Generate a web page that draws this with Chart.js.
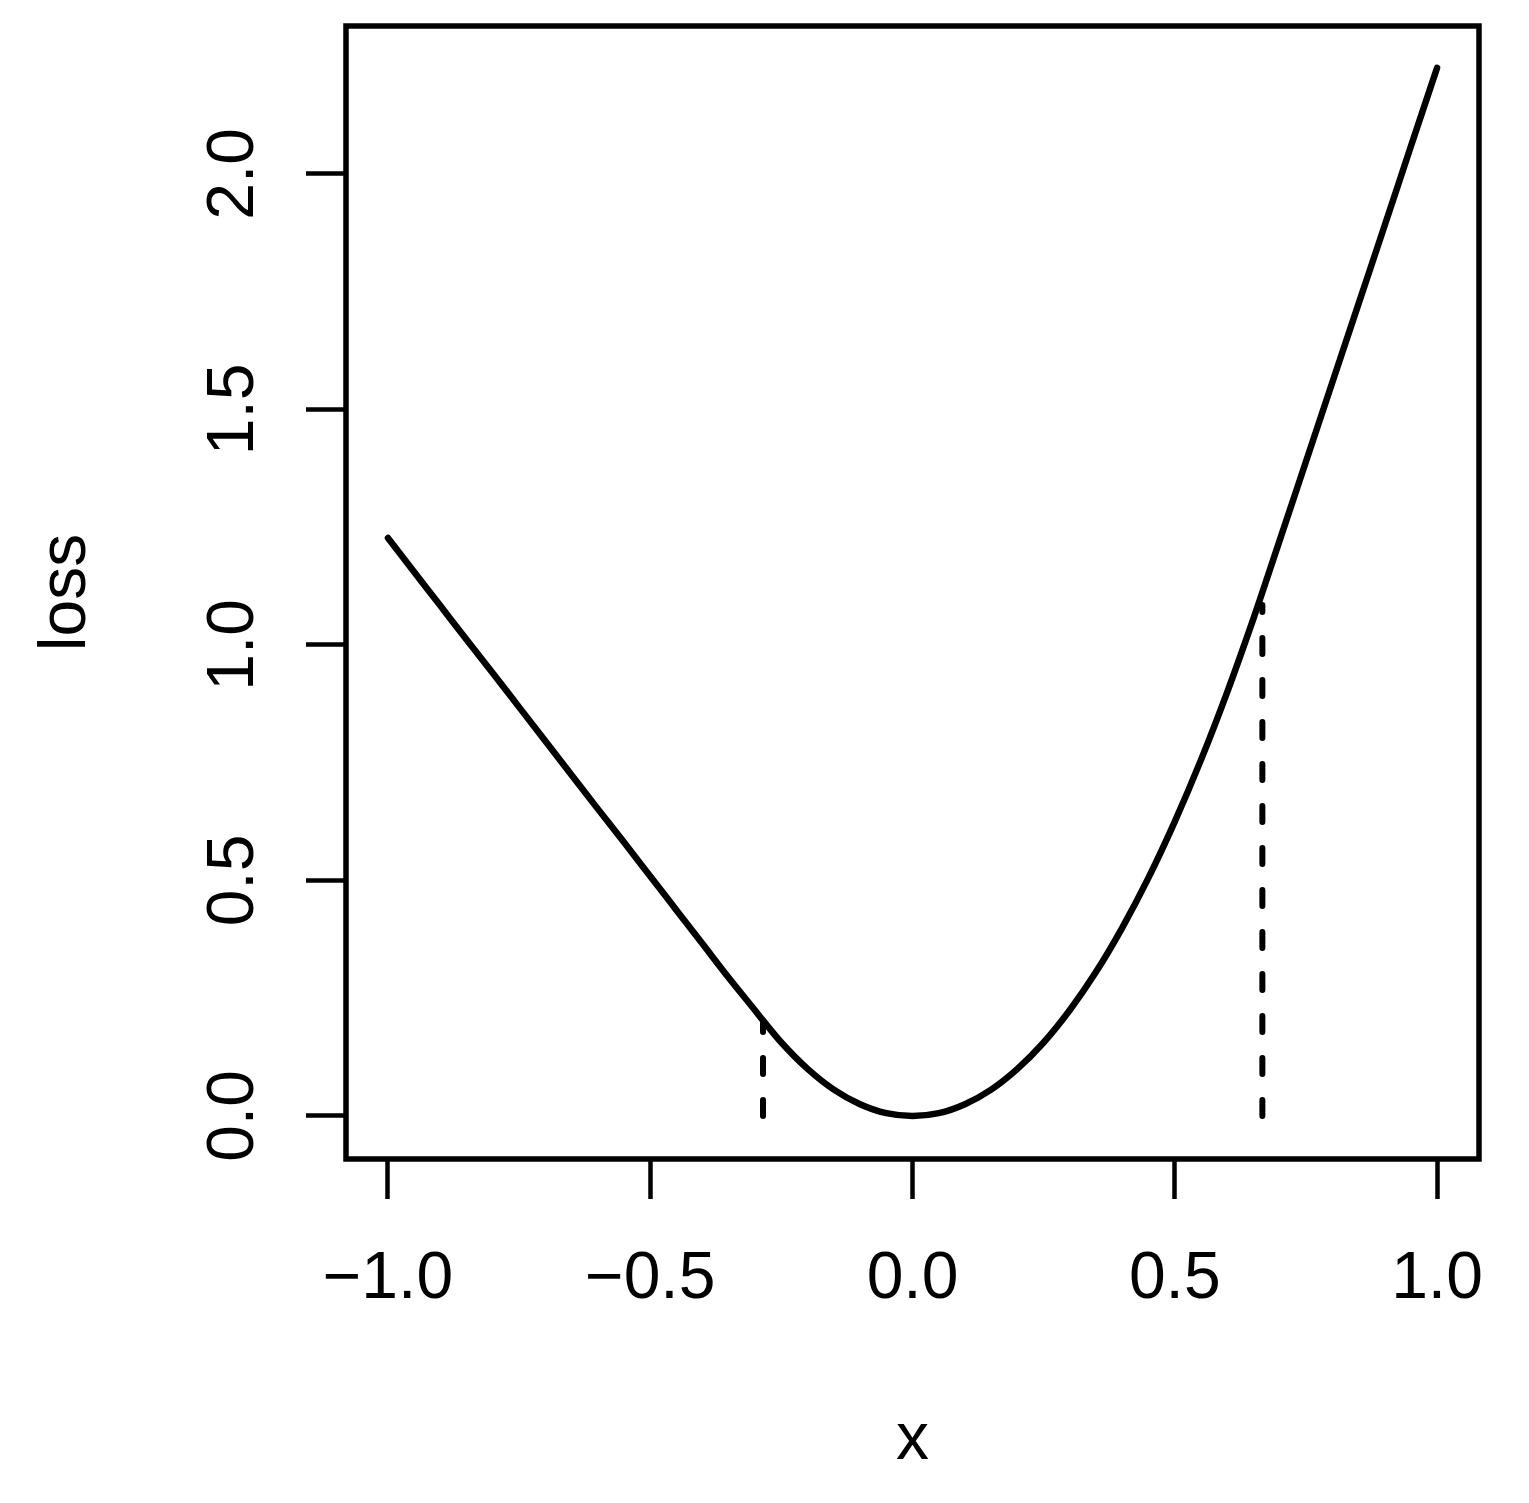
<!DOCTYPE html>
<html>
<head>
<meta charset="utf-8">
<script src="https://cdn.jsdelivr.net/npm/chart.js@4/dist/chart.umd.min.js"></script>
<style>
  html, body { margin: 0; padding: 0; background: #fff; }
  canvas { display: block; }
</style>
</head>
<body>
<canvas id="grafico" width="1529" height="1503"></canvas>
<script>
// valores
const xVals = [-1.0, -0.95, -0.9, -0.85, -0.8, -0.75, -0.7, -0.65, -0.6, -0.55, -0.5, -0.45, -0.4, -0.35, -0.3, -0.285,
  -0.25, -0.2, -0.15, -0.1, -0.05, 0.0, 0.05, 0.1, 0.15, 0.2, 0.25, 0.3, 0.35, 0.4, 0.45, 0.5, 0.55, 0.6, 0.65, 0.667,
  0.7, 0.75, 0.8, 0.85, 0.9, 0.95, 1.0];
const lossVals = [1.227, 1.155, 1.083, 1.011, 0.940, 0.868, 0.796, 0.724, 0.652, 0.581, 0.509, 0.437, 0.365, 0.293, 0.224, 0.203,
  0.156, 0.100, 0.056, 0.025, 0.006, 0.000, 0.006, 0.025, 0.056, 0.100, 0.156, 0.225, 0.306, 0.400, 0.506, 0.625, 0.756, 0.900, 1.056, 1.112,
  1.222, 1.389, 1.556, 1.723, 1.890, 2.058, 2.225];

// linhas tracejadas verticais
const cutX = [-0.285, 0.667];
const cutTop = [0.2, 1.085];

// marcas dos eixos
const xTicks = [-1.0, -0.5, 0.0, 0.5, 1.0];
const xTickLabels = ['\u22121.0', '\u22120.5', '0.0', '0.5', '1.0'];
const yTicks = [0.0, 0.5, 1.0, 1.5, 2.0];
const yTickLabels = ['0.0', '0.5', '1.0', '1.5', '2.0'];

const fonte = '"Liberation Sans", Arial, Helvetica, sans-serif';
const tam = 66;

const datasets = [{
  data: xVals.map((x, i) => ({ x: x, y: lossVals[i] })),
  showLine: true,
  borderColor: '#000',
  borderWidth: 6.5,
  borderCapStyle: 'round',
  borderJoinStyle: 'round',
  cubicInterpolationMode: 'monotone',
  pointRadius: 0
}];

cutX.forEach((x, i) => {
  datasets.push({
    data: [{ x: x, y: 0 }, { x: x, y: cutTop[i] }],
    showLine: true,
    borderColor: '#000',
    borderWidth: 6,
    borderDash: [16, 26],
    borderCapStyle: 'round',
    pointRadius: 0
  });
});

// moldura em volta da área do gráfico
const moldura = {
  id: 'moldura',
  afterDraw(chart) {
    const a = chart.chartArea;
    const c = chart.ctx;
    c.save();
    c.strokeStyle = '#000';
    c.lineWidth = 5.5;
    c.strokeRect(a.left, a.top, a.right - a.left, a.bottom - a.top);
    c.restore();
  }
};

const ctx = document.getElementById('grafico').getContext('2d');
const grafico = new Chart(ctx, {
  type: 'scatter',
  data: { datasets: datasets },
  plugins: [moldura],
  options: {
    responsive: false,
    animation: false,
    devicePixelRatio: 1,
    layout: { padding: { left: 0, right: 50, top: 26, bottom: 0 } },
    plugins: { legend: { display: false }, tooltip: { enabled: false } },
    scales: {
      x: {
        type: 'linear',
        position: 'bottom',
        min: -1.08,
        max: 1.08,
        afterBuildTicks: s => { s.ticks = xTicks.map(v => ({ value: v })); },
        afterFit: s => { s.height = 344; s.paddingLeft = 0; s.paddingRight = 0; },
        border: { display: false },
        grid: { display: true, drawOnChartArea: false, drawTicks: true, tickLength: 40, tickWidth: 4.5, tickColor: '#000' },
        ticks: {
          color: '#000',
          font: { family: fonte, size: tam },
          padding: 41,
          maxRotation: 0,
          autoSkip: false,
          callback: (v, i) => xTickLabels[i]
        },
        title: { display: true, text: 'x', color: '#000', font: { family: fonte, size: tam }, padding: { top: 0, bottom: 23 } }
      },
      y: {
        type: 'linear',
        position: 'left',
        min: -0.0913,
        max: 2.314,
        afterBuildTicks: s => { s.ticks = yTicks.map(v => ({ value: v })); },
        afterFit: s => { s.width = 346; s.paddingTop = 0; s.paddingBottom = 0; },
        border: { display: false },
        grid: { display: true, drawOnChartArea: false, drawTicks: true, tickLength: 40, tickWidth: 4.5, tickColor: '#000' },
        ticks: {
          color: '#000',
          font: { family: fonte, size: tam },
          padding: 25,
          minRotation: 90,
          maxRotation: 90,
          crossAlign: 'center',
          autoSkip: false,
          callback: (v, i) => yTickLabels[i]
        },
        title: { display: true, text: 'loss', color: '#000', font: { family: fonte, size: tam }, padding: { top: 27, bottom: 0 } }
      }
    }
  }
});
</script>
</body>
</html>
